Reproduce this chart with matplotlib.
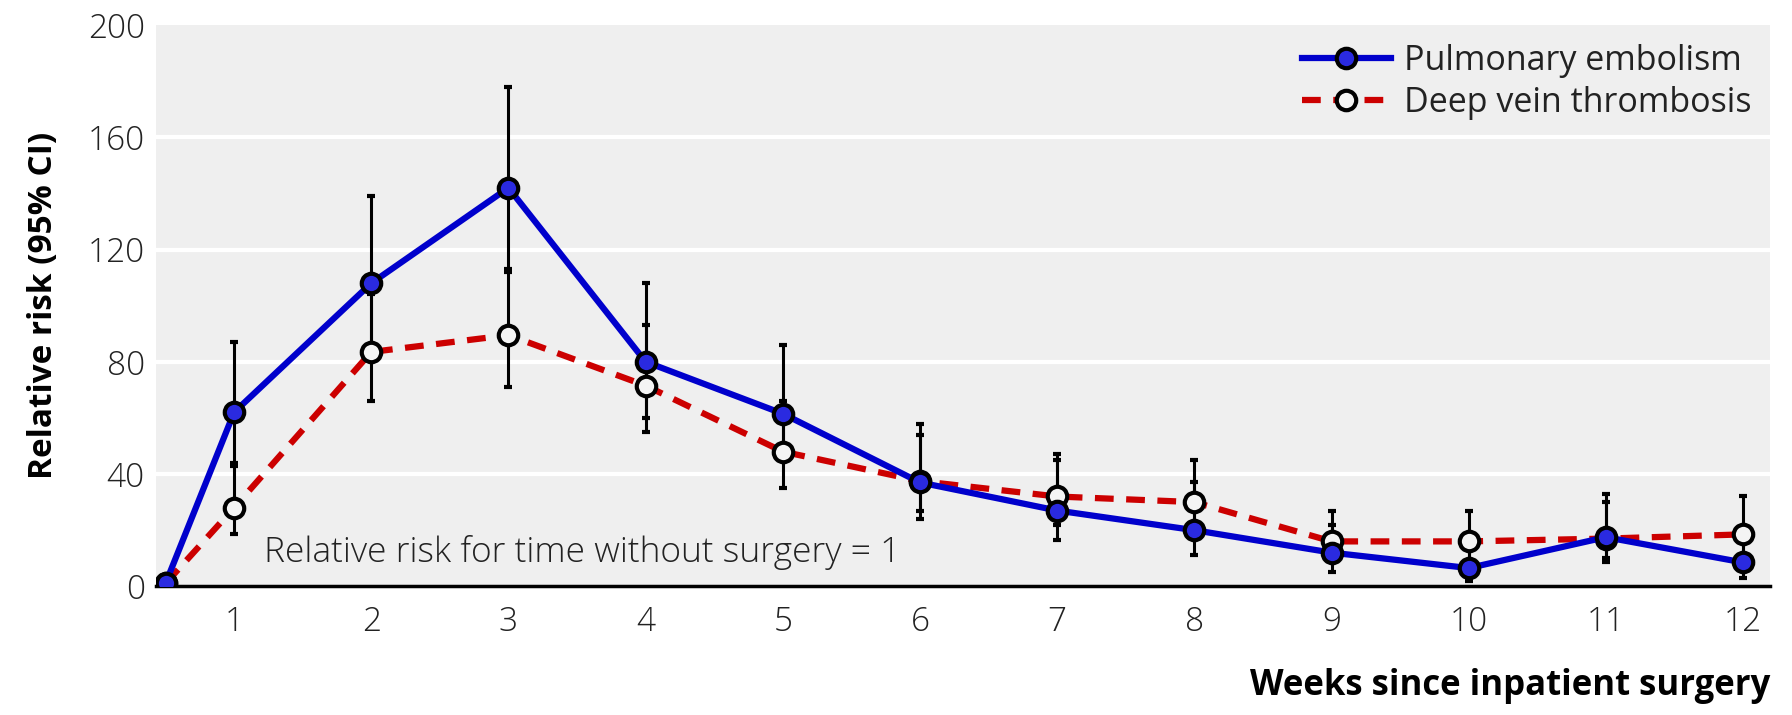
import numpy as np
import matplotlib.pyplot as plt

# weeks since inpatient surgery (first point = time without surgery)
weeks = [0.5, 1, 2, 3, 4, 5, 6, 7, 8, 9, 10, 11, 12]

# pulmonary embolism: relative risk and 95% CI
pe_rr = [1, 62, 108, 142, 80, 61.5, 37, 27, 20, 12, 6.5, 17.5, 8.5]
pe_lo = [1, 44, 84, 113, 60, 45, 24, 16.5, 11, 5, 2, 8.5, 3]
pe_hi = [1, 87, 139, 178, 108, 86, 58, 45, 37, 22, 15, 33, 20]

# deep vein thrombosis: relative risk and 95% CI
dvt_rr = [1, 28, 83.5, 89.5, 71.5, 48, 37.5, 32, 30, 16, 16, 17, 18.5]
dvt_lo = [1, 18.5, 66, 71, 55, 35, 27, 22, 19, 9, 9, 10, 10]
dvt_hi = [1, 43, 104, 112, 93, 66, 54, 47, 45, 27, 27, 30, 32]

yticks = [0, 40, 80, 120, 160, 200]

plt.rcParams['font.family'] = ['Open Sans', 'DejaVu Sans']

fig = plt.figure(figsize=(17.92, 7.15), dpi=100)
ax = fig.add_axes([0.087, 0.18, 0.901, 0.785])
ax.set_facecolor('#efefef')

for y in yticks[1:-1]:
    ax.axhline(y, color='white', lw=3, zorder=1)

# error bars
pe_err = [np.array(pe_rr) - np.array(pe_lo), np.array(pe_hi) - np.array(pe_rr)]
dvt_err = [np.array(dvt_rr) - np.array(dvt_lo), np.array(dvt_hi) - np.array(dvt_rr)]
ax.errorbar(weeks[1:], dvt_rr[1:], yerr=[e[1:] for e in dvt_err], fmt='none',
            ecolor='black', elinewidth=2.2, capsize=3, capthick=3, zorder=2)
ax.errorbar(weeks[1:], pe_rr[1:], yerr=[e[1:] for e in pe_err], fmt='none',
            ecolor='black', elinewidth=2.2, capsize=3, capthick=3, zorder=2)

ax.plot(weeks, dvt_rr, color='#cc0000', lw=4.5, dashes=(3, 2),
        marker='o', markersize=14, markerfacecolor='#f4f4f4',
        markeredgecolor='black', markeredgewidth=3, zorder=3,
        label='Deep vein thrombosis')
ax.plot(weeks, pe_rr, color='#0000cc', lw=4.5,
        marker='o', markersize=14, markerfacecolor='#2a2ae0',
        markeredgecolor='black', markeredgewidth=3, zorder=4,
        label='Pulmonary embolism')

ax.set_xlim(0.43, 12.2)
ax.set_ylim(0, 200)
ax.set_yticks(yticks)
ax.set_xticks(range(1, 13))

for s in ['top', 'right', 'left']:
    ax.spines[s].set_visible(False)
ax.spines['bottom'].set_linewidth(2.5)
ax.spines['bottom'].set_color('black')
ax.spines['bottom'].set_zorder(2.5)
ax.tick_params(axis='x', length=0, pad=14, labelsize=24, colors='#222222')
ax.tick_params(axis='y', length=0, pad=8, labelsize=24, colors='#222222')
for lab in ax.get_xticklabels() + ax.get_yticklabels():
    lab.set_fontweight('light')

ax.text(1.22, 12, 'Relative risk for time without surgery = 1', fontsize=25.5,
        color='#222222', va='center', ha='left', fontweight='light')

handles, labels = ax.get_legend_handles_labels()
leg = ax.legend(handles[::-1], labels[::-1], loc='upper right', frameon=False,
                fontsize=24.5, handlelength=2.6, handletextpad=0.4,
                labelspacing=0.25, borderaxespad=0.15)
for t in leg.get_texts():
    t.set_color('#222222')

ax.set_ylabel('Relative risk (95% CI)', fontsize=24, fontweight='bold', labelpad=20)
fig.text(0.988, 0.015, 'Weeks since inpatient surgery', fontsize=25,
         fontweight='bold', ha='right', va='bottom')

fig.savefig('out.png', dpi=100)
